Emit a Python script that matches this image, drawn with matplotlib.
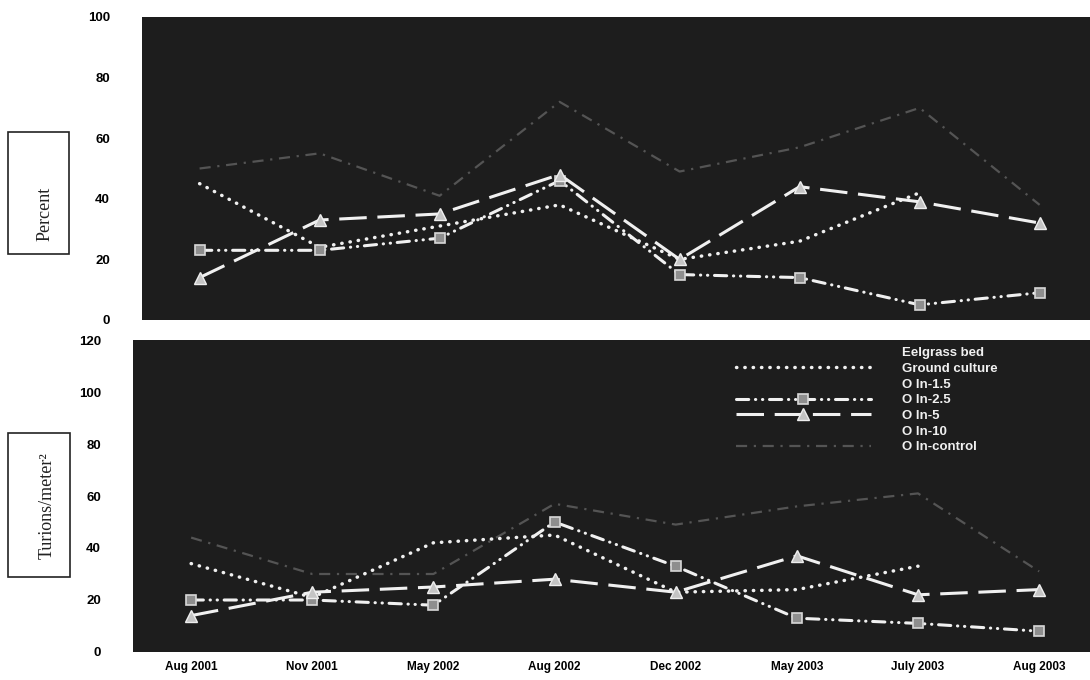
"""Turion density and percent by site — two stacked line panels on dark background.

Recreates the scanned eelgrass figure: percent (top) and turions per m^2 (bottom)
for the ground culture and the O ln treatment plots, Aug 2001 - Aug 2003.
"""

import numpy as np
import matplotlib

matplotlib.use("Agg")
import matplotlib.pyplot as plt
from matplotlib.lines import Line2D
from matplotlib.patches import Rectangle

dates = ["Aug 2001", "Nov 2001", "May 2002", "Aug 2002",
         "Dec 2002", "May 2003", "July 2003", "Aug 2003"]

# top panel - percent
pct_ground = [45, 24, 31, 38, 20, 26, 42, np.nan]
pct_oln_2_5 = [23, 23, 27, 46, 15, 14, 5, 9]
pct_oln_5 = [14, 33, 35, 48, 20, 44, 39, 32]
pct_oln_control = [50, 55, 41, 72, 49, 57, 70, 38]

# bottom panel - turions / m^2
tur_ground = [34, 21, 42, 45, 23, 24, 33, np.nan]
tur_oln_2_5 = [20, 20, 18, 50, 33, 13, 11, 8]
tur_oln_5 = [14, 23, 25, 28, 23, 37, 22, 24]
tur_oln_control = [44, 30, 30, 57, 49, 56, 61, 31]

legend_labels = ["Eelgrass bed", "Ground culture", "O ln-1.5", "O ln-2.5",
                 "O ln-5", "O ln-10", "O ln-control"]

BG = "#1d1d1d"
FG = "#f0f0f0"

STYLES = {
    "ground": dict(color=FG, lw=2.5, ls=(0, (0.1, 2.3)), dash_capstyle="round"),
    "oln_2_5": dict(color=FG, lw=2.2, ls=(0, (4, 2.2, 0.1, 2.2, 0.1, 2.2)),
                    dash_capstyle="round", marker="s", ms=7,
                    mfc="#8e8e8e", mec="#d8d8d8", mew=1.2),
    "oln_5": dict(color=FG, lw=2.2, ls=(0, (9, 3.5)), marker="^", ms=9,
                  mfc="#c4c4c4", mec="#eeeeee", mew=1.0),
    "control": dict(color="#545454", lw=1.6, ls=(0, (5, 3, 1, 3))),
}


def _style_axes(ax, ymax, step):
    ax.set_facecolor(BG)
    ax.set_xlim(-0.48, 7.42)
    ax.set_ylim(0, ymax)
    ax.set_yticks(np.arange(0, ymax + 1, step))
    ax.tick_params(length=0, pad=23, labelsize=9.5)
    for lab in ax.get_yticklabels():
        lab.set_fontweight("bold")
    for spine in ax.spines.values():
        spine.set_visible(False)


def _plot_panel(ax, ground, o25, o5, control):
    x = np.arange(len(dates))
    ax.plot(x, control, **STYLES["control"])
    ax.plot(x, ground, **STYLES["ground"])
    ax.plot(x, o25, **STYLES["oln_2_5"])
    ax.plot(x, o5, **STYLES["oln_5"])


def _ylabel_box(fig, x0, y0, x1, y1, text, tx, ty):
    W, H = 1090, 680
    fig.patches.append(Rectangle((x0 / W, 1 - y1 / H), (x1 - x0) / W, (y1 - y0) / H,
                                 transform=fig.transFigure, fill=False,
                                 edgecolor="#222222", lw=1.2))
    fig.text(tx / W, 1 - ty / H, text, rotation=90, ha="center", va="center",
             family="Liberation Serif", fontsize=13, color="#222222")


def main():
    plt.rcParams["font.family"] = ["Liberation Sans", "DejaVu Sans"]
    fig = plt.figure(figsize=(10.9, 6.8), dpi=100)

    ax_top = fig.add_axes([142 / 1090, 1 - 320 / 680, 948 / 1090, 303 / 680])
    ax_bot = fig.add_axes([133 / 1090, 1 - 652 / 680, 957 / 1090, 312 / 680])

    _plot_panel(ax_top, pct_ground, pct_oln_2_5, pct_oln_5, pct_oln_control)
    _plot_panel(ax_bot, tur_ground, tur_oln_2_5, tur_oln_5, tur_oln_control)

    _style_axes(ax_top, 100, 20)
    _style_axes(ax_bot, 120, 20)
    ax_top.set_xticks(np.arange(len(dates)))
    ax_top.set_xticklabels([])
    ax_bot.set_xticks(np.arange(len(dates)))
    ax_bot.set_xticklabels(dates, fontsize=8.5, fontweight="bold")
    ax_bot.tick_params(axis="x", pad=13)
    for lab in ax_bot.get_xticklabels():
        lab.set_verticalalignment("baseline")

    # legend: series without a visible line keep an empty handle
    handles = [
        Line2D([], [], color="none"),
        Line2D([], [], **STYLES["ground"]),
        Line2D([], [], color="none"),
        Line2D([], [], **STYLES["oln_2_5"]),
        Line2D([], [], **STYLES["oln_5"]),
        Line2D([], [], color="none"),
        Line2D([], [], **STYLES["control"]),
    ]
    leg = fig.legend(handles, legend_labels, loc="upper left",
                     bbox_to_anchor=(736 / 1090, 1 - 347 / 680),
                     frameon=False, fontsize=9.5, handlelength=10.2,
                     handletextpad=2.4, labelspacing=0.26, borderpad=0,
                     borderaxespad=0, markerfirst=True)
    for t in leg.get_texts():
        t.set_color(FG)
        t.set_fontweight("bold")

    _ylabel_box(fig, 8, 132, 69, 254, "Percent", 45, 214)
    _ylabel_box(fig, 8, 433, 70, 577, "Turions/meter²", 47, 506)

    fig.savefig("out.png", dpi=100, facecolor="white")
    plt.close(fig)


if __name__ == "__main__":
    main()
